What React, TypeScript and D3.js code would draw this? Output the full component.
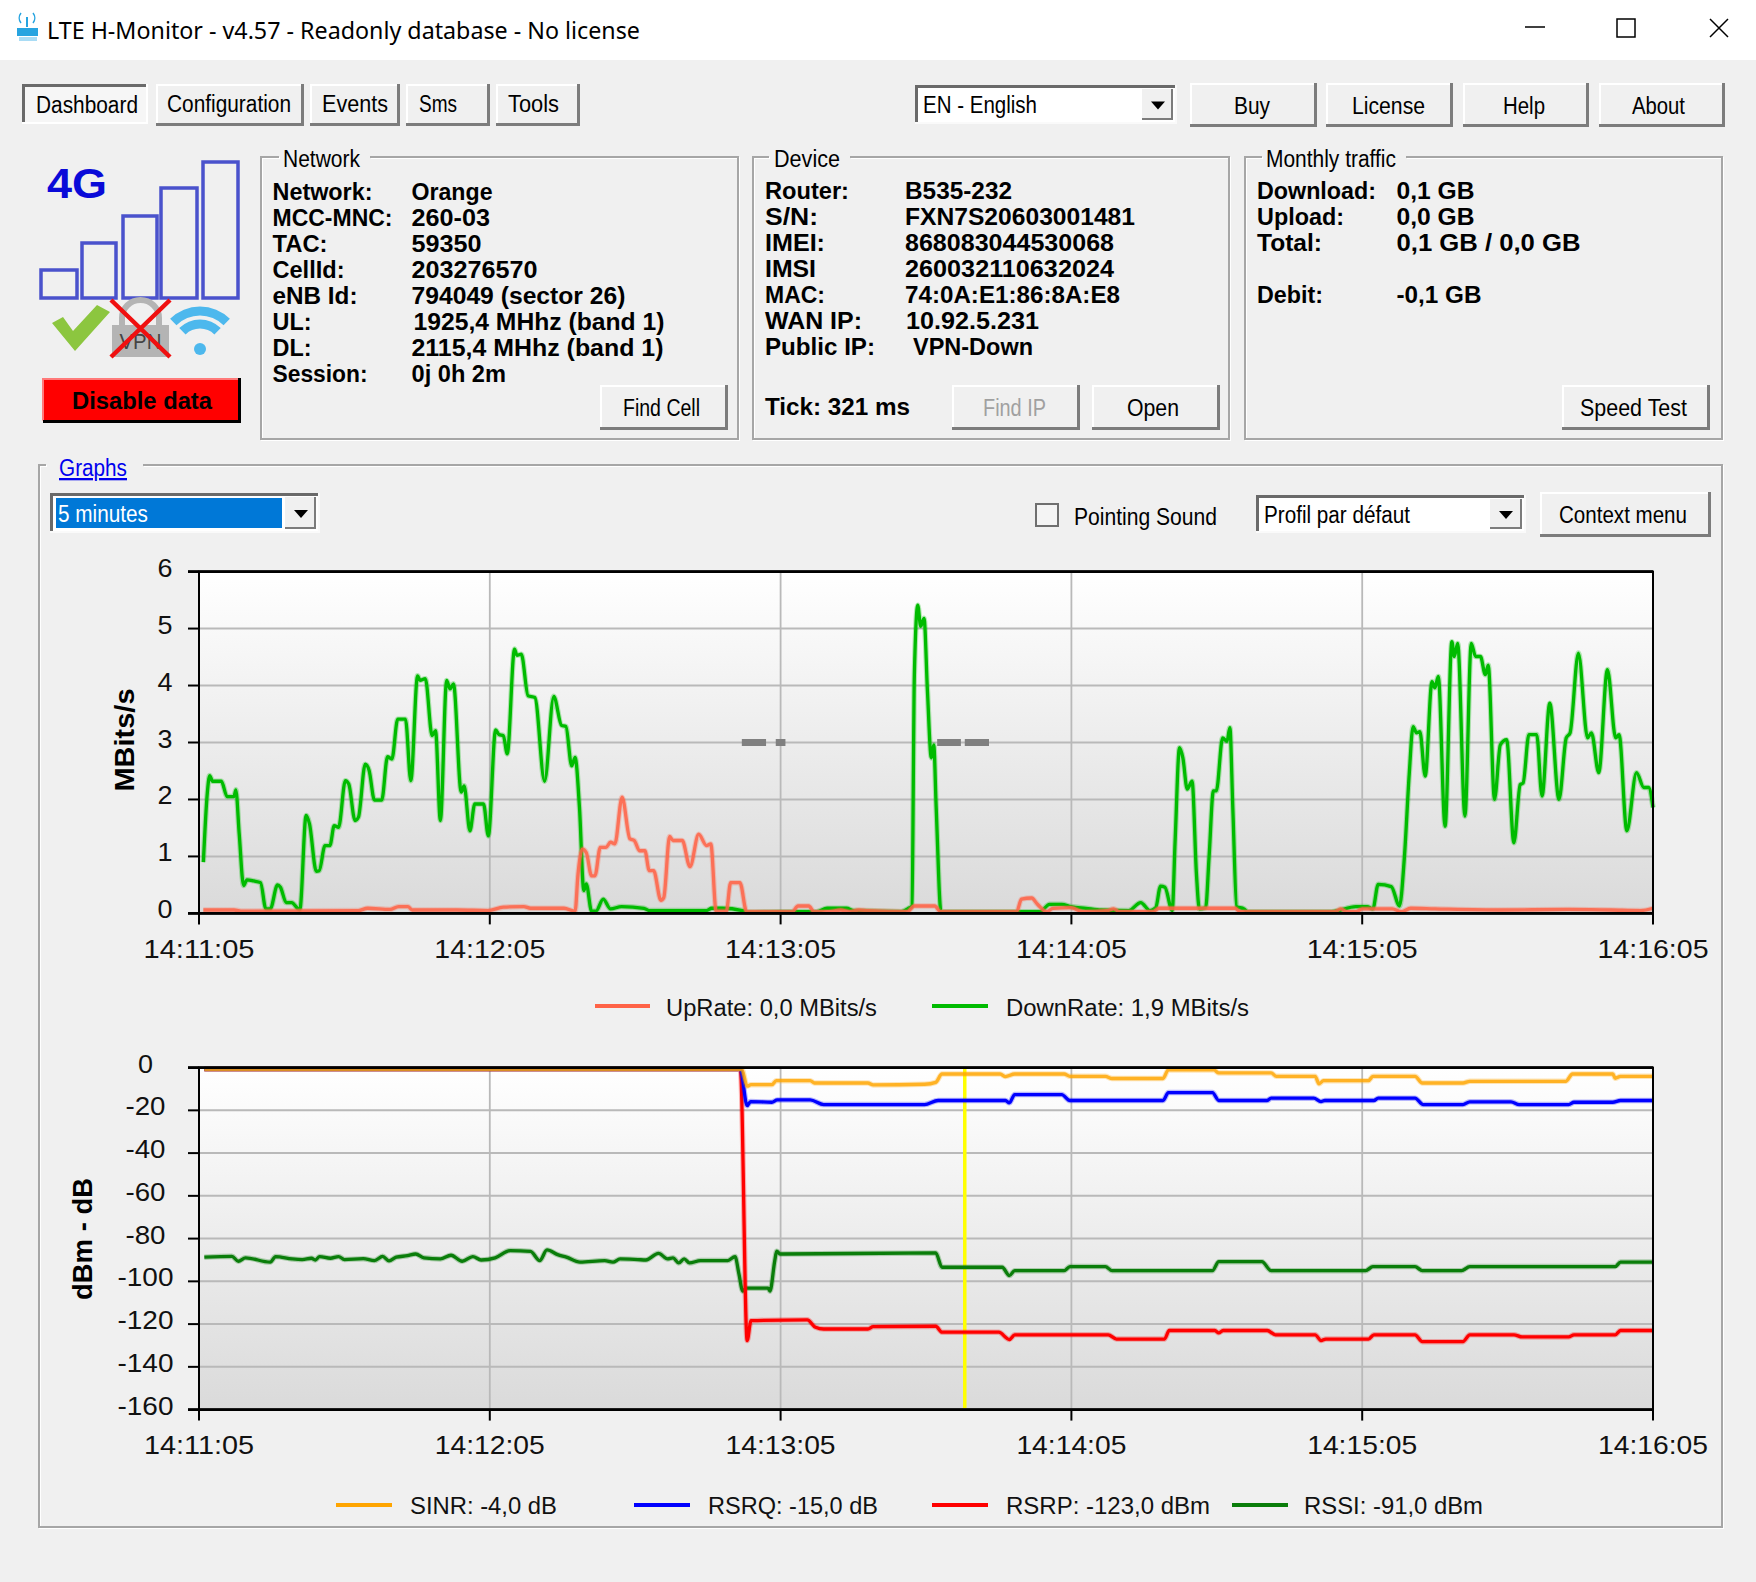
import React from "react";
import * as d3 from "d3";

const xTickSeconds = [0, 60, 120, 180, 240, 300];
const xTickLabels = ["14:11:05", "14:12:05", "14:13:05", "14:14:05", "14:15:05", "14:16:05"];
const rateTicks = [0, 1, 2, 3, 4, 5, 6];
const signalTicks = [0, -20, -40, -60, -80, -100, -120, -140, -160];

const downRate: [number, number][] = [
  [0.9,0.9],[1.7,2.1],[2.2,2.42],[2.8,2.32],[4.6,2.32],[5.8,2.05],[7.2,2.05],[7.6,2.17],[8.3,1.39],[9.2,0.49],[9.9,0.59],[11.3,0.57],[12.7,0.54],[13.8,0.08],[14.7,0.08],[16.2,0.5],[16.8,0.46],[18,0.19],[19.1,0.19],[20.8,0.06],[22.1,1.72],[22.8,1.57],[24.2,0.74],[24.8,0.75],[26,1.19],[27,1.19],[27.9,1.54],[28.8,1.51],[30.2,2.33],[30.9,2.27],[32.2,1.63],[32.9,1.69],[34.3,2.62],[35.1,2.51],[36.2,1.99],[37.7,1.99],[38.9,2.75],[39.8,2.71],[41,3.41],[42.6,3.41],[43.7,2.33],[45.1,4.17],[45.6,4.09],[46.7,4.12],[48.1,3.12],[48.8,3.21],[49.8,1.63],[51.1,4.09],[51.8,3.94],[52.5,4.03],[54.1,2.13],[54.7,2.24],[55.9,1.45],[56.9,1.92],[58.7,1.92],[59.7,1.36],[61.2,3.22],[61.9,3.14],[62.8,3.12],[63.6,2.8],[65.1,4.64],[65.6,4.53],[66.5,4.55],[67.9,3.82],[69.3,3.79],[71.3,2.32],[73.2,3.81],[74.8,3.3],[75.7,3.28],[76.9,2.59],[77.6,2.74],[78.5,1.86],[79.4,0.4],[79.9,0.52],[81,0.04],[81.9,0.04],[83.4,0.25],[84.9,0.08],[87.2,0.12],[91.8,0.09],[92.9,0.05],[104.7,0.05],[105.8,0.09],[107.9,0.09],[112.1,0.05],[113.4,0.02],
  [120,0.03],[127.4,0.03],[129.6,0.09],[133.6,0.09],[135.1,0.05],[144.9,0.03],[146.4,0.09],[147.1,0.13],[147.6,4.19],[148.3,5.41],[148.9,5.04],[149.6,5.18],[150.3,3.9],[151.1,2.73],[151.6,2.96],[152.1,1.86],[153.1,0.03],[171.2,0.03],[173.5,0.03],[175.5,0.16],[178,0.16],[179.9,0.12],[183,0.09],[186.2,0.06],[191.8,0.05],[194.3,0.19],[196.2,0.05],[197.4,0.1],[198.4,0.48],[199.3,0.46],[200.8,0.05],[201.4,1.27],[202.3,2.91],[203,2.73],[203.9,2.18],[204.9,2.32],[205.8,0.69],[206.4,0.08],[207.7,0.1],[208.4,0.98],[209.3,2.15],[209.9,2.15],[211.2,3.08],[212.1,3.02],[212.7,3.26],[213.3,1.86],[214.1,0.12],[215.6,0.08],[216.4,0.03],[233.7,0.03],[238.7,0.12],[241,0.12],[242.2,0.08],[243.3,0.51],[246,0.47],[247.7,0.13],[248.7,0.98],[249.7,2.44],[250.5,3.28],[251.2,3.17],[251.9,3.19],[253,2.41],[254.4,4.07],[255,3.96],[255.7,4.16],[257.1,1.53],[258.5,4.77],[259,4.51],[259.7,4.74],[261.2,1.71],[262.5,4.74],[263.4,4.51],[264.4,4.51],[265.4,4.19],[266,4.36],[267.3,2],[268.5,2.96],[269.8,3.05],[271.3,1.24],[272.6,2.26],[273.2,2.29],[274.4,3.14],[276,3.14],[277.1,2.06],[278.7,3.69],[280.6,2],[282.1,3.08],[282.9,3.17],[284.6,4.57],[286.5,3.08],[287.3,3.17],[288.8,2.47],[290.6,4.28],[292.3,3.08],[293,3.14],[294.6,1.45],[296.6,2.47],[298.1,2.21],[299.1,2.21],[300,1.86],
];

const upRate: [number, number][] = [
  [0.9,0.06],[7.2,0.06],[9,0.04],[32.9,0.05],[34.8,0.09],[39.4,0.07],[41.2,0.12],[43.1,0.12],[44,0.06],[53.2,0.06],[59.6,0.05],[62.8,0.11],[67,0.12],[68.4,0.09],[75.3,0.09],[77.6,0.04],[78.2,0.69],[79.1,1.13],[79.9,1.07],[81,0.66],[81.7,0.66],[82.8,1.16],[84,1.16],[84.9,1.25],[85.8,1.22],[87.3,2.04],[88.9,1.31],[89.8,1.28],[90.9,1.1],[92,1.1],[92.9,0.75],[93.8,0.75],[95.3,0.23],[95.9,0.28],[97.1,1.35],[97.8,1.28],[99.7,1.28],[101.3,0.82],[103.1,1.39],[104.7,1.19],[105.6,1.22],[106.7,0.04],[108.8,0.04],[109.7,0.54],[111.6,0.54],[113,0.03],
  [122.4,0.03],[123.6,0.13],[125.8,0.13],[126.9,0.03],[129.9,0.03],[132.4,0.06],[134.3,0.03],[136.1,0.06],[138,0.05],[146.1,0.03],[147.6,0.13],[151.8,0.13],[153,0.03],[168.7,0.03],[169.7,0.25],[171.8,0.27],[173,0.16],[174.9,0.03],[176.2,0.09],[179.9,0.1],[182.4,0.03],[187.4,0.05],[188.7,0.08],[189.9,0.03],[196.8,0.03],[198.1,0.09],[213.7,0.09],[214.9,0.03],[234.3,0.03],[235.6,0.08],[236.8,0.03],[238.7,0.03],[240,0.08],[246.2,0.08],[248.1,0.03],[250,0.09],[255,0.08],[268.7,0.06],[282.5,0.07],[291.3,0.06],[297.5,0.05],[300,0.09],
];

const rssi: [number, number][] = [
  [1.1,-88.7],[6.8,-88.3],[8.1,-90.6],[9.6,-89],[14.7,-91],[15.8,-88.4],[19.2,-89.5],[21.3,-89.8],[23.2,-89.2],[24,-90],[24.9,-88.4],[27.1,-89.2],[28.8,-88.4],[30,-89.8],[33.9,-89.4],[36.2,-90.3],[37.9,-88.3],[39.2,-90.4],[40.7,-88.7],[43,-88],[44.7,-87.2],[46.4,-89],[49.8,-89.5],[52,-87.8],[54.3,-90.6],[56.5,-88.4],[58.2,-90],[61.1,-89],[64.2,-85.6],[68.4,-86],[70.3,-90.3],[71.8,-85.3],[74,-87.5],[75.8,-88.7],[78.6,-91],[83.7,-90.3],[85.4,-91],[86.9,-89.5],[90.5,-89.8],[92.2,-90],[94.8,-86.9],[96.7,-89.5],[97.8,-89],[99,-91.4],[100.1,-89.5],[101.2,-91.4],[103.5,-90.3],[109.1,-90.3],[110.6,-88.4],[111.4,-96.5],[112.2,-104.6],[112.9,-103.2],[117.4,-103.2],[117.8,-104.6],[118.8,-90.3],[119.2,-85.9],[119.9,-87.2],
  [152,-86.7],[153.3,-93.4],[165.7,-93.4],[167.2,-97.3],[168.3,-95],[178.5,-95],[179.7,-93.1],[187,-93.1],[188.4,-95],[209.1,-95],[210.4,-90.8],[219.3,-90.8],[221.2,-95],[240.7,-95],[242.2,-93.1],[250.9,-93.1],[252.4,-95],[260.5,-95],[262.2,-93.1],[292.2,-93.1],[293.3,-91],[300,-91],
];

const rsrp: [number, number][] = [
  [1.1,-0.8],[111.7,-0.8],[113.1,-127.7],[113.9,-118.4],[125.5,-118],[127.2,-121.5],[128.9,-122.3],[138,-122.3],[139.1,-121.2],[152,-121],[153.3,-123.8],[165,-123.8],[167.2,-127.2],[168.3,-125],[187.6,-125],[189.3,-127],[199.2,-127],[200.2,-123],[209.6,-123],[210.4,-124.1],[211.3,-123],[220.4,-123],[222.1,-125],[230.3,-125],[231.5,-127.7],[232.5,-127],[241.3,-127],[242.4,-125],[250.9,-125],[252.4,-128.2],[260.8,-128.2],[262.2,-125],[271.3,-125],[273,-126],[282.6,-126],[283.7,-125],[292.2,-125],[293.3,-123],[300,-123],
];

const rsrq: [number, number][] = [
  [1.1,-0.8],[111.7,-0.8],[113.1,-17.8],[113.8,-15.9],[118.2,-16.2],[119.3,-15.1],[126.1,-15.1],[128.9,-17.3],[149.7,-17.3],[152.5,-15.4],[166.4,-15.4],[167.2,-16.5],[168.3,-12.6],[178,-12.6],[179.7,-15.4],[198.9,-15.4],[200,-11.7],[209.1,-11.7],[210.4,-15.4],[220.4,-15.4],[221.2,-14.3],[230,-14.3],[231.5,-15.9],[232.3,-15.4],[242.4,-15.4],[243.3,-14.3],[250.9,-14.3],[252.6,-17.3],[260.8,-17.3],[262.2,-16],[270.7,-16],[272.4,-17.3],[282.6,-17.3],[283.7,-16.2],[291.7,-16.2],[293.3,-15.4],[300,-15.4],
];

const sinr: [number, number][] = [
  [1.1,-0.8],[112,-0.8],[113.1,-8.7],[113.9,-8],[118.2,-8],[119.1,-6.1],[126.1,-6.1],[127,-7.2],[138,-7.2],[139.1,-8.1],[149.7,-7.8],[152,-6.9],[153.3,-3],[165.3,-3],[166.4,-4.2],[168.3,-3],[178.5,-3],[179.7,-4.1],[187,-4.1],[188.4,-5.1],[198.9,-5.1],[200,-1.1],[209.4,-1.1],[210.4,-2.5],[221.2,-2.5],[222.3,-4.1],[230.3,-4.1],[231.1,-7.6],[232,-6.1],[241.3,-6.1],[242.2,-4.1],[250.9,-4.1],[252.4,-7.2],[260.8,-7.2],[262.2,-6.4],[282,-6.4],[283.4,-3],[291.7,-3],[292.2,-5],[293.3,-4.1],[300,-4.1],
];

const grayDashes: [number, number][] = [[112,117],[119,121],[152.3,157.2],[158,163]];
const cursorSecond = 158;
const signalBars = [28, 55, 82, 110, 136];

const FONT = "'Liberation Sans', Arial, sans-serif";
const T = ({ x, y, w, s = 23, b = false, fill = "#000", a = "start", children }: any) => (
  <text x={x} y={y} fontFamily={FONT} fontSize={s} fontWeight={b ? "bold" : "normal"} fill={fill}
    textAnchor={a} textLength={w} lengthAdjust="spacingAndGlyphs">{children}</text>
);

const Btn = ({ x, y, w, h, label, tx, tw, by, fill = "#000" }: any) => (
  <g>
    <rect x={x} y={y} width={w} height={h} fill="#f0f0f0" />
    <path d={`M${x + 1} ${y + h}V${y + 1}H${x + w}`} fill="none" stroke="#fff" strokeWidth={2} />
    <path d={`M${x} ${y + h - 1.5}H${x + w - 1.5}V${y}`} fill="none" stroke="#7c7c7c" strokeWidth={3} />
    <T x={tx} y={by} w={tw} fill={fill}>{label}</T>
  </g>
);

const Combo = ({ x, y, w, h, ax, children }: any) => (
  <g>
    <rect x={x} y={y} width={w} height={h} fill="#fff" />
    <path d={`M${x + 1.5} ${y + h}V${y + 1.5}H${x + w}`} fill="none" stroke="#6a6a6a" strokeWidth={3} />
    <path d={`M${x} ${y + h - 1}H${x + w - 1}V${y}`} fill="none" stroke="#fafafa" strokeWidth={2} />
    {children}
    <rect x={ax} y={y + 4} width={x + w - 4 - ax} height={h - 8} fill="#f0f0f0" />
    <path d={`M${ax} ${y + h - 5}H${x + w - 5}V${y + 4}`} fill="none" stroke="#7c7c7c" strokeWidth={2} />
    <path d={`M${ax + 9} ${y + h / 2 - 3}h14l-7 8z`} fill="#000" />
  </g>
);

const Group = ({ x, y, w, h, gx0, gx1, children }: any) => (
  <g>
    <path d={`M${gx0} ${y}H${x}V${y + h}H${x + w}V${y}H${gx1}`} fill="none" stroke="#fff" strokeWidth={2} transform="translate(1,1)" />
    <path d={`M${gx0} ${y}H${x}V${y + h}H${x + w}V${y}H${gx1}`} fill="none" stroke="#a6a6a6" strokeWidth={2} />
    {children}
  </g>
);

const rows = (x0: number, x1: number, base: number, labels: any[], values: any[]) => (
  <g>
    {labels.map(([t, w], i) => t ? <T key={"l" + i} x={x0} y={base + i * 26} w={w} b>{t}</T> : null)}
    {values.map(([t, w, dx], i) => t ? <T key={"v" + i} x={x1 + (dx || 0)} y={base + i * 26} w={w} b>{t}</T> : null)}
  </g>
);

const PX_LEFT = 199;
const PX_RIGHT = 1653;
const x = d3.scaleLinear().domain([0, 300]).range([PX_LEFT, PX_RIGHT]);

const Series = ({ line, data, color, opacity = 1, width = 3.3 }: any) => (
  <g fill="none" strokeLinejoin="round" stroke={color}>
    <path d={line(data)} strokeWidth={width + 2.2} strokeOpacity={0.28} />
    <path d={line(data)} strokeWidth={width} strokeOpacity={opacity} />
  </g>
);

const Frame = ({ id, y, ticks }: any) => {
  const [bottom, top] = y.range();
  return (
    <g>
      <defs>
        <linearGradient id={id} x1="0" x2="0" y1="0" y2="1">
          <stop offset="0" stopColor="#fff" />
          <stop offset="1" stopColor="#dadada" />
        </linearGradient>
      </defs>
      <rect x={PX_LEFT} y={top} width={PX_RIGHT - PX_LEFT} height={bottom - top} fill={`url(#${id})`} />
      {ticks.map((t: number) => (
        <line key={t} x1={PX_LEFT} x2={PX_RIGHT} y1={y(t)} y2={y(t)} stroke="#b9b9b9" strokeWidth={2} />
      ))}
      {xTickSeconds.map((s) => (
        <line key={s} x1={x(s)} x2={x(s)} y1={top} y2={bottom} stroke="#b9b9b9" strokeWidth={1.8} />
      ))}
    </g>
  );
};

const FrameAxes = ({ y, ticks, tickX, tickW, labelY, labelW }: any) => {
  const [bottom, top] = y.range();
  return (
    <g>
      <rect x={PX_LEFT} y={top} width={PX_RIGHT - PX_LEFT} height={bottom - top} fill="none" stroke="#000" strokeWidth={2} />
      <line x1={PX_LEFT - 11} x2={PX_RIGHT} y1={top} y2={top} stroke="#000" strokeWidth={2.6} />
      <line x1={PX_LEFT - 11} x2={PX_RIGHT} y1={bottom} y2={bottom} stroke="#000" strokeWidth={2.6} />
      {ticks.map((t: number) => (
        <g key={t}>
          <line x1={PX_LEFT - 11} x2={PX_LEFT} y1={y(t)} y2={y(t)} stroke="#000" strokeWidth={2} />
          <T x={tickX} y={y(t) + 5} w={tickW(t)} s={26} a="middle" fill="#111">{t}</T>
        </g>
      ))}
      {xTickSeconds.map((s, i) => (
        <g key={s}>
          <line x1={x(s)} x2={x(s)} y1={bottom} y2={bottom + 11} stroke="#000" strokeWidth={2} />
          <T x={x(s)} y={labelY} w={labelW} s={26} a="middle" fill="#111">{xTickLabels[i]}</T>
        </g>
      ))}
    </g>
  );
};

const Legend = ({ x0, x1, y, color, tx, tw, by, label }: any) => (
  <g>
    <line x1={x0} x2={x1} y1={y} y2={y} stroke={color} strokeWidth={4} />
    <T x={tx} y={by} w={tw} fill="#111">{label}</T>
  </g>
);

export default function App() {
  const yRate = d3.scaleLinear().domain([0, 6]).range([913.4, 571.6]);
  const ySignal = d3.scaleLinear().domain([-160, 0]).range([1409.6, 1067.6]);
  const lineRate = d3.line<[number, number]>().x((d) => x(d[0])).y((d) => yRate(d[1])).curve(d3.curveMonotoneX);
  const lineSignal = d3.line<[number, number]>().x((d) => x(d[0])).y((d) => ySignal(d[1])).curve(d3.curveMonotoneX);
  const arc = (r: number) => d3.arc()({ innerRadius: r - 4.5, outerRadius: r + 4.5, startAngle: -0.78, endAngle: 0.78 }) as string;
  const barX = [41, 82, 123, 161, 203];
  const barW = [36, 34, 34, 36, 35];

  return (
    <svg width={1756} height={1582} style={{ position: "absolute", left: 0, top: 0, display: "block", background: "#f0f0f0" }}>
      {/* title bar */}
      <rect x={0} y={0} width={1756} height={60} fill="#fff" />
      <g>
        <rect x={17} y={28} width={21} height={8} fill="#27a4e0" />
        <rect x={19} y={37} width={18} height={4} fill="#a9dcf5" />
        <path d="M27 27V17" stroke="#27a4e0" strokeWidth={2} />
        <path d="M21 23a8 8 0 0 1 0-10M33 23a8 8 0 0 0 0-10" fill="none" stroke="#27a4e0" strokeWidth={1.5} />
      </g>
      <text x={47} y={39} fontFamily="'Noto Sans', sans-serif" fontSize={23} textLength={593} lengthAdjust="spacingAndGlyphs" fill="#000">LTE H-Monitor - v4.57 - Readonly database - No license</text>
      <line x1={1525} x2={1545} y1={27} y2={27} stroke="#000" strokeWidth={1.5} />
      <rect x={1617} y={19} width={18} height={18} fill="none" stroke="#000" strokeWidth={1.5} />
      <path d="M1710 19L1728 37M1728 19L1710 37" stroke="#000" strokeWidth={1.5} />

      {/* tabs */}
      <rect x={22} y={84} width={126} height={40} fill="#f6f6f6" />
      <path d="M23.5 124V85.5H148" fill="none" stroke="#6a6a6a" strokeWidth={3} />
      <path d="M22 123H147V84" fill="none" stroke="#fff" strokeWidth={2} />
      <T x={36} y={113} w={102}>Dashboard</T>
      <Btn x={156} y={84} w={148} h={42} label="Configuration" tx={167} tw={124} by={112} />
      <Btn x={310} y={84} w={90} h={42} label="Events" tx={322} tw={66} by={112} />
      <Btn x={406} y={84} w={84} h={42} label="Sms" tx={419} tw={38} by={112} />
      <Btn x={496} y={84} w={84} h={42} label="Tools" tx={508} tw={51} by={112} />

      <Combo x={915} y={85} w={262} h={39} ax={1142}>
        <T x={923} y={113} w={114}>EN - English</T>
      </Combo>
      <Btn x={1190} y={83} w={127} h={44} label="Buy" tx={1234} tw={36} by={114} />
      <Btn x={1326} y={83} w={127} h={44} label="License" tx={1352} tw={73} by={114} />
      <Btn x={1463} y={83} w={126} h={44} label="Help" tx={1503} tw={42} by={114} />
      <Btn x={1599} y={83} w={126} h={44} label="About" tx={1632} tw={53} by={114} />

      {/* status icons */}
      <T x={47} y={198} w={60} s={42} b fill="#0a0ad8">4G</T>
      {signalBars.map((h, i) => (
        <rect key={i} x={barX[i]} y={298 - h} width={barW[i]} height={h} fill="none" stroke="#4a52cc" strokeWidth={3.5} />
      ))}
      <path d="M52 323L75 351L110 312L97 305L73 331L63 317Z" fill="#8cc63f" />
      <path d="M122 328V318a18.500 18 0 0 1 37 0V328" fill="none" stroke="#b4b4b4" strokeWidth={6} />
      <rect x={112} y={325} width={57} height={32} fill="#b4b4b4" />
      <T x={140.500} y={349} w={42} s={22} a="middle" fill="#444">VPN</T>
      <path d="M111 300L170 357M170 300L111 357" stroke="#f01010" strokeWidth={4.500} />
      <g transform="translate(200,349)" fill="#4db8ed">
        <path d={arc(38)} />
        <path d={arc(25)} />
        <circle cx={0} cy={0} r={6} />
      </g>
      <rect x={43} y={378} width={198} height={45} fill="#ff0000" />
      <path d="M43 420.500V379H241" fill="none" stroke="#ff7a7a" strokeWidth={2} />
      <path d="M43 421.500H239.500V378" fill="none" stroke="#000" strokeWidth={3} />
      <T x={72} y={409} w={140} b>Disable data</T>

      {/* Network */}
      <Group x={261} y={157} w={477} h={282} gx0={279} gx1={370}>
        <T x={283} y={167} w={77}>Network</T>
        {rows(272.5, 411.5, 199.5,
          [["Network:",100],["MCC-MNC:",120],["TAC:",55],["CellId:",72],["eNB Id:",85],["UL:",39],["DL:",39],["Session:",95]],
          [["Orange",81],["260-03",78.5],["59350",70],["203276570",126],["794049 (sector 26)",214],["1925,4 MHhz (band 1)",251,2],["2115,4 MHhz (band 1)",252],["0j 0h 2m",94.5]])}
        <Btn x={600} y={385} w={128} h={45} label="Find Cell" tx={623} tw={77} by={416} />
      </Group>

      {/* Device */}
      <Group x={753} y={157} w={476} h={282} gx0={769} gx1={850}>
        <T x={774} y={167} w={66}>Device</T>
        {rows(765, 905, 199,
          [["Router:",84],["S/N:",53],["IMEI:",60],["IMSI",51],["MAC:",60],["WAN IP:",97],["Public IP:",110]],
          [["B535-232",107],["FXN7S20603001481",230],["868083044530068",209],["260032110632024",209],["74:0A:E1:86:8A:E8",215],["10.92.5.231",133,1],["VPN-Down",120,8]])}
        <T x={765} y={415} w={145} b>Tick: 321 ms</T>
        <Btn x={952} y={385} w={128} h={45} label="Find IP" tx={983} tw={63} by={416} fill="#a0a0a0" />
        <Btn x={1092} y={385} w={128} h={45} label="Open" tx={1127} tw={52} by={416} />
      </Group>

      {/* Monthly traffic */}
      <Group x={1245} y={157} w={477} h={282} gx0={1262} gx1={1406}>
        <T x={1266} y={167} w={130}>Monthly traffic</T>
        {rows(1257, 1396.500, 199,
          [["Download:",119],["Upload:",87],["Total:",65],["",0],["Debit:",66]],
          [["0,1 GB",78],["0,0 GB",78],["0,1 GB / 0,0 GB",184],["",0],["-0,1 GB",85]])}
        <Btn x={1562} y={385} w={148} h={45} label="Speed Test" tx={1580} tw={107} by={416} />
      </Group>

      {/* Graphs group */}
      <Group x={39} y={465} w={1683} h={1062} gx0={46} gx1={143}>
        <text x={59} y={476} fontFamily={FONT} fontSize={23} textLength={68} lengthAdjust="spacingAndGlyphs" fill="#0000ee" textDecoration="underline">Graphs</text>
      </Group>

      <Combo x={50} y={493} w={270} h={40} ax={285}>
        <rect x={56} y={498} width={226} height={30} fill="#0078d7" />
        <T x={58} y={522} w={90} fill="#fff">5 minutes</T>
      </Combo>
      <rect x={1036} y={504} width={22} height={22} fill="#f4f4f4" stroke="#6f6f6f" strokeWidth={2} />
      <T x={1074} y={525} w={143}>Pointing Sound</T>
      <Combo x={1256} y={495} w={270} h={38} ax={1490}>
        <T x={1264} y={523} w={146}>Profil par défaut</T>
      </Combo>
      <Btn x={1540} y={492} w={171} h={45} label="Context menu" tx={1559} tw={128} by={523} />

      {/* Rate chart */}
      <Frame id="gradRate" y={yRate} ticks={rateTicks} />
      {grayDashes.map(([a, b]) => (
        <line key={a} x1={x(a)} x2={x(b)} y1={yRate(3)} y2={yRate(3)} stroke="#808080" strokeWidth={7} />
      ))}
      <Series line={lineRate} data={downRate} color="#00bb00" />
      <Series line={lineRate} data={upRate} color="#ff6347" opacity={0.85} />
      <FrameAxes y={yRate} ticks={rateTicks} tickX={165} tickW={() => 15} labelY={958} labelW={111} />
      <text transform="translate(134,740) rotate(-90)" textAnchor="middle" fontFamily={FONT} fontWeight="bold" fontSize={27} textLength={103} lengthAdjust="spacingAndGlyphs" fill="#000">MBits/s</text>
      <Legend x0={595} x1={650} y={1006} color="#ff6347" tx={666} tw={211} by={1016} label="UpRate: 0,0 MBits/s" />
      <Legend x0={932} x1={988} y={1006} color="#00bb00" tx={1006} tw={243} by={1016} label="DownRate: 1,9 MBits/s" />

      {/* Signal chart */}
      <Frame id="gradSignal" y={ySignal} ticks={signalTicks} />
      <line x1={x(cursorSecond)} x2={x(cursorSecond)} y1={1068} y2={1408} stroke="#ffff00" strokeWidth={3.5} />
      <Series line={lineSignal} data={rssi} color="#0a7d0a" />
      <Series line={lineSignal} data={rsrp} color="#ff0000" />
      <Series line={lineSignal} data={rsrq} color="#0000ff" />
      <Series line={lineSignal} data={sinr} color="#ffa500" opacity={0.8} />
      <FrameAxes y={ySignal} ticks={signalTicks} tickX={145.5}
        tickW={(t: number) => (t === 0 ? 15 : t > -100 ? 40 : 56)} labelY={1454} labelW={110} />
      <text transform="translate(92,1239) rotate(-90)" textAnchor="middle" fontFamily={FONT} fontWeight="bold" fontSize={27} textLength={122} lengthAdjust="spacingAndGlyphs" fill="#000">dBm - dB</text>
      <Legend x0={336} x1={392} y={1505} color="#ffa500" tx={410} tw={147} by={1514} label="SINR: -4,0 dB" />
      <Legend x0={634} x1={690} y={1505} color="#0000ff" tx={708} tw={170} by={1514} label="RSRQ: -15,0 dB" />
      <Legend x0={932} x1={988} y={1505} color="#ff0000" tx={1006} tw={204} by={1514} label="RSRP: -123,0 dBm" />
      <Legend x0={1232} x1={1288} y={1505} color="#0a7d0a" tx={1304} tw={179} by={1514} label="RSSI: -91,0 dBm" />
    </svg>
  );
}
